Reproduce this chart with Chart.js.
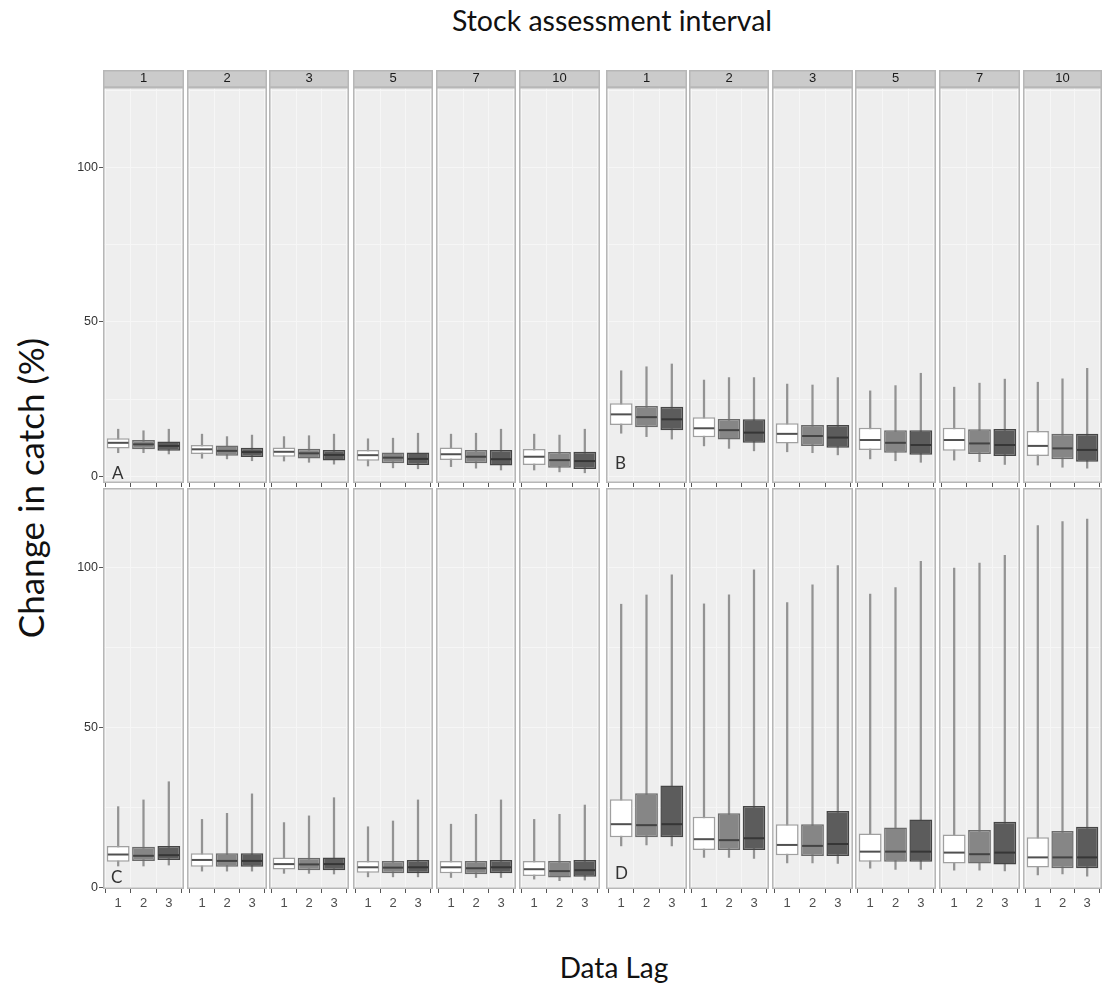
<!DOCTYPE html>
<html>
<head>
<meta charset="utf-8">
<script src="https://cdn.jsdelivr.net/npm/chart.js@4.4.1/dist/chart.umd.min.js"></script>
<style>
  html, body { margin: 0; padding: 0; background: #ffffff; }
  #fig { position: relative; width: 1103px; height: 985px; overflow: hidden; background: #ffffff; }
  .lbl { position: absolute; color: #111111; white-space: nowrap; font-family: Lato, "Open Sans", sans-serif;
         transform: translate(-50%, -50%); line-height: 1; }
  #title { left: 612px; top: 20px; font-size: 28.5px; }
  #xlab  { left: 614px; top: 967px; font-size: 28px; }
  #ylab  { left: 30px; top: 488px; font-size: 35px; transform: translate(-50%, -50%) rotate(-90deg); }
</style>
</head>
<body>
<div id="fig">
  <div class="lbl" id="title">Stock assessment interval</div>
  <div class="lbl" id="ylab">Change in catch (%)</div>
  <div class="lbl" id="xlab">Data Lag</div>
</div>
<script>
// Facets (stock assessment interval) and boxes within each facet (data lag)
const intervals = ['1', '2', '3', '5', '7', '10'];
const lags = [1, 2, 3];

// Box statistics per facet: [lag 1, lag 2, lag 3]
// Panel A
const aLow  = [[7.7, 7.7, 7.3], [5.9, 5.7, 5.1], [5.0, 4.6, 4.0], [3.4, 2.8, 2.5], [3.2, 2.7, 2.1], [2.1, 1.5, 1.2]];
const aQ1   = [[9.1, 8.8, 8.3], [7.3, 6.7, 6.3], [6.4, 5.8, 5.2], [5.1, 4.3, 3.7], [5.3, 4.3, 3.6], [3.7, 2.8, 2.4]];
const aMed  = [[10.9, 10.4, 9.9], [8.8, 8.3, 7.9], [8.0, 7.5, 7.0], [6.9, 6.1, 5.7], [7.2, 6.4, 5.6], [6.4, 5.3, 5.0]];
const aQ3   = [[12.4, 11.8, 11.3], [10.2, 10.0, 9.3], [9.4, 9.0, 8.6], [8.6, 7.8, 7.8], [9.4, 8.6, 8.6], [8.9, 7.9, 8.0]];
const aHigh = [[15.3, 14.8, 15.3], [13.7, 12.9, 13.4], [12.9, 13.2, 13.7], [12.2, 12.4, 14.0], [13.7, 14.0, 15.3], [13.7, 13.4, 15.3]];
// Panel B
const bLow  = [[14.0, 12.9, 12.1], [9.9, 9.1, 8.3], [8.0, 7.7, 7.0], [5.7, 5.1, 4.6], [5.3, 4.8, 3.9], [3.7, 3.0, 2.7]];
const bQ1   = [[16.7, 15.9, 15.0], [12.7, 12.0, 10.9], [10.7, 9.9, 9.3], [8.6, 7.7, 7.0], [8.3, 7.3, 6.6], [6.6, 5.6, 4.8]];
const bMed  = [[20.1, 19.2, 18.5], [15.6, 15.0, 14.2], [13.8, 13.1, 12.6], [11.8, 10.9, 10.2], [11.8, 10.7, 10.2], [9.9, 9.1, 8.6]];
const bQ3   = [[23.7, 22.8, 22.6], [19.2, 18.6, 18.5], [17.2, 16.7, 16.7], [15.8, 15.0, 15.0], [15.8, 15.3, 15.4], [14.7, 13.8, 13.8]];
const bHigh = [[34.2, 35.5, 36.4], [31.2, 32.0, 32.0], [29.9, 29.6, 32.0], [27.7, 29.4, 33.4], [28.9, 30.2, 31.5], [30.5, 31.6, 35.0]];
// Panel C
const cLow  = [[6.6, 6.6, 6.9], [5.0, 5.0, 5.0], [4.3, 4.3, 4.1], [3.2, 3.2, 3.2], [3.0, 3.0, 3.0], [2.5, 2.0, 2.2]];
const cQ1   = [[7.9, 8.2, 8.5], [6.4, 6.4, 6.4], [5.5, 5.3, 5.3], [4.5, 4.3, 4.3], [4.3, 4.0, 4.3], [3.5, 3.0, 3.2]];
const cMed  = [[10.2, 9.8, 10.0], [8.5, 8.2, 8.2], [7.2, 7.1, 7.2], [6.2, 6.1, 6.2], [6.2, 5.9, 6.2], [5.6, 5.0, 5.3]];
const cQ3   = [[12.9, 12.6, 12.9], [10.6, 10.6, 10.6], [9.3, 9.2, 9.3], [8.2, 8.2, 8.5], [8.2, 8.2, 8.5], [8.2, 8.2, 8.5]];
const cHigh = [[25.2, 27.3, 33.0], [21.2, 23.1, 29.2], [20.2, 22.3, 28.0], [18.9, 20.7, 27.3], [19.7, 22.8, 27.3], [21.2, 22.8, 25.7]];
// Panel D
const dLow  = [[12.9, 13.2, 12.9], [9.3, 9.3, 9.0], [7.6, 7.6, 7.4], [5.9, 5.5, 5.5], [5.3, 5.3, 5.1], [3.8, 4.1, 3.4]];
const dQ1   = [[15.6, 15.6, 15.6], [11.6, 11.6, 11.6], [10.0, 9.7, 9.7], [7.9, 7.9, 7.9], [7.4, 7.4, 7.1], [6.1, 5.9, 5.9]];
const dMed  = [[19.7, 19.4, 19.7], [15.0, 14.7, 15.3], [13.2, 12.9, 13.5], [11.1, 11.1, 11.1], [10.8, 10.3, 10.8], [9.3, 9.3, 9.3]];
const dQ3   = [[27.5, 29.4, 31.8], [22.0, 23.1, 25.4], [19.7, 19.7, 23.8], [16.8, 18.7, 21.2], [16.5, 17.9, 20.5], [15.6, 17.6, 18.9]];
const dHigh = [[88.6, 91.5, 97.8], [88.7, 91.5, 99.4], [89.1, 94.7, 100.7], [91.8, 93.8, 102.0], [99.9, 101.5, 103.9], [113.2, 114.5, 115.3]];

// Y axis: limits of each row, grid positions and which of them carry a label
const yLimitsTop = { min: -2.1, max: 126 };
const yLimitsBottom = { min: -0.6, max: 125 };
const yGridValues = [0, 25, 50, 75, 100, 125];
const yLabelValues = [0, 50, 100];

// Styling
const lagFill = ['#ffffff', '#868686', '#5c5c5c'];
const lagEdge = ['#a0a0a0', '#6b6b6b', '#454545'];
const medianColor = ['#505050', '#434343', '#363636'];
const whiskerColor = '#939393';
const panelBg = '#eeeeee';
const gridColor = '#f6f6f6';
const frameColor = '#b7b7b7';
const stripFill = '#cbcbcb';
const tickFont = 'Liberation Sans, Arial, sans-serif';

// Page layout (pixels)
const layout = {
  stripTop: 70,
  yAxisW: 33,
  rows: {
    top:    { panelTop: 87,  panelBottom: 483, axisH: 5 },
    bottom: { panelTop: 488, panelBottom: 889, axisH: 28 }
  },
  cols: {
    left:  { lefts: [103, 187, 269, 353, 436, 519], rights: [184, 267, 349, 433, 516, 600] },
    right: { lefts: [606, 689, 772, 855, 939, 1023], rights: [687, 769, 853, 936, 1020, 1102] }
  }
};

const panels = [
  { letter: 'A', row: 'top',    col: 'left',  low: aLow, q1: aQ1, med: aMed, q3: aQ3, high: aHigh, yl: yLimitsTop,    letterAt: [9, 4] },
  { letter: 'B', row: 'top',    col: 'right', low: bLow, q1: bQ1, med: bMed, q3: bQ3, high: bHigh, yl: yLimitsTop,    letterAt: [9, 14] },
  { letter: 'C', row: 'bottom', col: 'left',  low: cLow, q1: cQ1, med: cMed, q3: cQ3, high: cHigh, yl: yLimitsBottom, letterAt: [8, 6] },
  { letter: 'D', row: 'bottom', col: 'right', low: dLow, q1: dQ1, med: dMed, q3: dQ3, high: dHigh, yl: yLimitsBottom, letterAt: [9, 10] }
];

const isLabelled = v => yLabelValues.includes(v);

// Panel background, strip, frame, medians and panel letter for one facet
function facetDecor(medians, withStrip, letter, letterAt) {
  return {
    id: 'facetDecor',
    beforeDraw(chart) {
      const { ctx, chartArea: a } = chart;
      ctx.save();
      ctx.fillStyle = panelBg;
      ctx.fillRect(a.left, a.top, a.right - a.left, a.bottom - a.top);
      if (withStrip) {
        ctx.fillStyle = stripFill;
        ctx.fillRect(a.left, 0, a.right - a.left, a.top);
        ctx.strokeStyle = frameColor;
        ctx.lineWidth = 1.5;
        ctx.strokeRect(a.left + 0.75, 0.75, a.right - a.left - 1.5, a.top - 0.75);
      }
      ctx.restore();
    },
    afterDatasetsDraw(chart) {
      const { ctx } = chart;
      const y = chart.scales.y;
      const boxes = chart.getDatasetMeta(0).data;
      ctx.save();
      ctx.lineWidth = 2;
      boxes.forEach((el, i) => {
        const { x, width } = el.getProps(['x', 'width'], true);
        const py = y.getPixelForValue(medians[i]);
        ctx.strokeStyle = medianColor[i];
        ctx.beginPath();
        ctx.moveTo(x - width / 2 + 1, py);
        ctx.lineTo(x + width / 2 - 1, py);
        ctx.stroke();
      });
      ctx.restore();
    },
    afterDraw(chart) {
      const { ctx, chartArea: a } = chart;
      ctx.save();
      ctx.strokeStyle = frameColor;
      ctx.lineWidth = 1.5;
      ctx.strokeRect(a.left + 0.75, a.top + 0.75, a.right - a.left - 1.5, a.bottom - a.top - 1.5);
      if (letter) {
        ctx.fillStyle = '#333333';
        ctx.font = '17px Lato, "Open Sans", sans-serif';
        ctx.textBaseline = 'alphabetic';
        ctx.textAlign = 'left';
        ctx.fillText(letter, a.left + letterAt[0], a.bottom - letterAt[1]);
      }
      ctx.restore();
    }
  };
}

const fig = document.getElementById('fig');

panels.forEach(p => {
  const row = layout.rows[p.row];
  const col = layout.cols[p.col];
  const withStrip = p.row === 'top';
  const withXLabels = p.row === 'bottom';

  intervals.forEach((iv, fi) => {
    const withY = p.col === 'left' && fi === 0;
    const yw = withY ? layout.yAxisW : 0;
    const top = withStrip ? layout.stripTop : row.panelTop;
    const left = col.lefts[fi] - yw;
    const w = col.rights[fi] - col.lefts[fi] + yw;
    const h = row.panelBottom + row.axisH - top;

    const cv = document.createElement('canvas');
    cv.width = w;
    cv.height = h;
    cv.style.cssText = `position:absolute;left:${left}px;top:${top}px;width:${w}px;height:${h}px;`;
    fig.appendChild(cv);

    const boxData = lags.map((lag, i) => ({ x: lag, y: [p.q1[fi][i], p.q3[fi][i]] }));
    const whiskerData = lags.map((lag, i) => ({ x: lag, y: [p.low[fi][i], p.high[fi][i]] }));

    new Chart(cv, {
      type: 'bar',
      data: {
        datasets: [
          {
            label: 'box',
            data: boxData,
            backgroundColor: lagFill,
            borderColor: lagEdge,
            borderWidth: 1.5,
            borderSkipped: false,
            grouped: false,
            categoryPercentage: 1,
            barPercentage: 0.9
          },
          {
            label: 'whisker',
            data: whiskerData,
            backgroundColor: whiskerColor,
            borderWidth: 0,
            grouped: false,
            categoryPercentage: 1,
            barPercentage: 1,
            maxBarThickness: 1.6
          }
        ]
      },
      options: {
        responsive: false,
        maintainAspectRatio: false,
        animation: false,
        devicePixelRatio: 1,
        events: [],
        layout: { padding: 0 },
        plugins: {
          legend: { display: false },
          tooltip: { enabled: false },
          title: {
            display: withStrip,
            text: iv,
            position: 'top',
            fullSize: false,
            align: 'center',
            padding: 0,
            color: '#1a1a1a',
            font: { family: tickFont, size: 13, weight: 'normal', lineHeight: '17px' }
          }
        },
        scales: {
          x: {
            type: 'linear',
            min: 0.4,
            max: 3.6,
            offset: false,
            afterBuildTicks: s => { s.ticks = lags.map(v => ({ value: v })); },
            ticks: {
              display: withXLabels,
              autoSkip: false,
              maxRotation: 0,
              padding: 3,
              color: '#4d4d4d',
              font: { family: tickFont, size: 13 }
            },
            grid: { color: gridColor, lineWidth: 1, drawTicks: true, tickLength: 4, tickColor: '#555555' },
            border: { display: false },
            afterFit: s => { s.height = row.axisH; }
          },
          y: {
            min: p.yl.min,
            max: p.yl.max,
            afterBuildTicks: s => { s.ticks = yGridValues.map(v => ({ value: v })); },
            ticks: {
              display: withY,
              autoSkip: false,
              padding: 1,
              color: '#333333',
              font: { family: tickFont, size: 12.5 },
              callback: v => (isLabelled(v) ? String(v) : '')
            },
            grid: {
              color: gridColor,
              lineWidth: 1,
              drawTicks: withY,
              tickLength: 4,
              tickColor: c => (c.tick && isLabelled(c.tick.value) ? '#555555' : 'rgba(0,0,0,0)')
            },
            border: { display: false },
            afterFit: s => { s.width = yw; s.paddingTop = 0; s.paddingBottom = 0; }
          }
        }
      },
      plugins: [facetDecor(p.med[fi], withStrip, fi === 0 ? p.letter : null, p.letterAt)]
    });
  });
});
</script>
</body>
</html>
